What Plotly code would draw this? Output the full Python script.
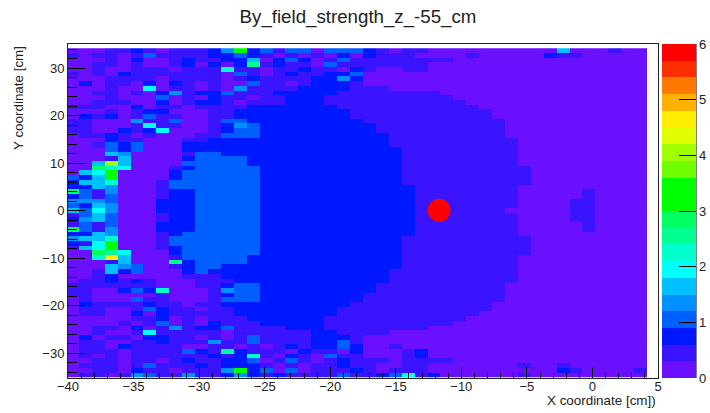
import plotly.graph_objects as go

TITLE = "By_field_strength_z_-55_cm"
X_LABEL = "X coordinate [cm])"
Y_LABEL = "Y coordinate [cm]"

LEVEL_COLORS = ["#6A10FF", "#3A14FF", "#0018FF", "#0060FF", "#0090FF", "#00C0FF", "#00FFFF",
                "#00FFCC", "#00FF90", "#00FF60", "#00FF00", "#00FF00", "#70FF00", "#A0FF00",
                "#E0FF00", "#FFEE00", "#FFB000", "#FF7800", "#FF3000", "#FF0000"]
LEVEL_STEP = 0.3
Z_MAX = 6

# One character per cell: the colour band (base 20), top row first.
# Columns x = -40 ... -24
LEFT_BANDS = [
    "000112101112" "4a231", "10110131111223210", "00010200121122502", "00110100120202812",
    "00100111011171101", "10102111111103101", "00011110111101211", "02011020210100311",
    "00010060110104111", "00110102412231112", "00010003010211011", "00111002012210111",
    "11100201101111222", "00010122000112222", "02120131100112222", "11000411300133222",
    "11000161100124322", "11002126000123322", "01121010001133322", "00021100011222222",
    "00132300022222222", "00032300022222222", "00054000013322222", "00015000023333222",
    "005d5000033333222", "00976000123333322", "056a0000233333322", "325a0000233333322",
    "25570001333333322", "22540001333333322", "93140001223333322", "23130001223333322",
    "44430002223333322", "32540002223333322", "53640002223333322", "13530001223333322",
    "24530001223333322", "13130002223333322", "93140002223333322", "22540001233333322",
    "45570001333333322", "216a0001333333322", "156a0001233333322", "00986000233333322",
    "007f5000133333222", "00015000823333222", "00054300123322222", "00152300023222222",
    "00120000011122222", "01121210001112222", "11111110001123322", "11002327000143322",
    "11000001000123322", "01000311000133322", "02111121101122222", "01100132110112222",
    "01100202111112222", "00000112010111222", "00001013010211122", "00110201412231111",
    "00100161111101111", "02011022110101311", "01100112111411311", "01102111100110101",
    "01110111132182111", "01010111111212710", "00110110121122301", "01110131112122210",
    "0011021101114a230", "01101431141124212",
]

# Columns x = -23 ... 4
RIGHT_BANDS = [
    "3303332101100000000005000100", "1010202111000010000021100000", "3201311111111000000000000000",
    "1103111111100000000000000000", "1211021001100000000000000000", "2112230000000000000000000000",
    "1122420000000000000000000000", "0122210000000000000000000000", "1222211100000000000000000000",
    "2222111111110000000000000000", "2221111111111000000000000000", "2221111111111100000000000000",
    "2222111111111110000000000000", "2222211111111111000000000000", "2222211111111111000000000000",
    "2222221111111111100000000000", "2222222111111111100000000000", "2222222111111111100000000000",
    "2222222211111111100000000000", "2222222211111111110000000000", "2222222211111111110000000000",
    "2222222221111111110000000000", "2222222221111111110000000000", "2222222221111111110000000000",
    "2222222221111111110000000000", "2222222221111111111000000000", "2222222221111111111000000000",
    "2222222221111111111000000000", "2222222221111111111000000000", "2222222222111111110000000000",
    "2222222222111111110000010000", "2222222222111111110000010000", "2222222222111111110000110000",
    "2222222222111111110000110000", "2222222222111111100000110000", "2222222222111111110000110000",
    "2222222222111111110000110000", "2222222222111111110000010000", "2222222222111111110000010000",
    "2222222222111111110000000000", "2222222221111111111000000000", "2222222221111111111000000000",
    "2222222221111111111000000000", "2222222221111111111000000000", "2222222221111111110000000000",
    "2222222221111111110000000000", "2222222221111111110000000000", "2222222211111111110000000000",
    "2222222211111111110000000000", "2222222211111111110000000000", "2222222111111111100000000000",
    "2222222111111111100000000000", "2222221111111111100000000000", "2222221111111111100000000000",
    "2222211111111111000000000000", "2222111111111111000000000000", "2222111111111110000000000000",
    "2221111111111100000000000000", "2221111111111000000000000000", "2221111111100000000000000000",
    "1122111100000000000000000000", "1122210000000000000000000000", "1122310000000000000000000000",
    "2122320010000000000000000000", "0211020001200000000000000000", "2103110001200000000000000000",
    "3101211101111000000000000000", "1011211001100000001001000000", "3011121011100000000002100001",
    "1111311236120000001000000000",
]

GRID_X_START = -39.66
GRID_X_STEP = 0.984
GRID_Y_START = -34.6
GRID_Y_STEP = 0.99

POINT_X = [-11.7]
POINT_Y = [0.1]

X_TICKS = [-40, -35, -30, -25, -20, -15, -10, -5, 0, 5]
Y_TICKS = [-30, -20, -10, 0, 10, 20, 30]
BAR_TICKS = [0, 1, 2, 3, 4, 5, 6]

rows = [l + r for l, r in zip(LEFT_BANDS, RIGHT_BANDS)]
assert len(rows) == 70 and all(len(r) == 45 for r in rows), [len(r) for r in rows]
z = [[(int(ch, 20) + 0.5) * LEVEL_STEP for ch in row] for row in reversed(rows)]

colorscale = []
n = len(LEVEL_COLORS)
for i, c in enumerate(LEVEL_COLORS):
    colorscale.append([i / n, c])
    colorscale.append([(i + 1) / n, c])

FONT = "Liberation Sans, Arial, sans-serif"
INK = "#222222"
L, R, T, B = 68, 52, 44, 35
W, H = 710, 413
PW = W - L - R
PH = H - T - B

fig = go.Figure()
fig.add_trace(go.Heatmap(
    z=z, x0=GRID_X_START, dx=GRID_X_STEP, y0=GRID_Y_START, dy=GRID_Y_STEP,
    colorscale=colorscale, zmin=0, zmax=Z_MAX, xgap=0, ygap=0,
    colorbar=dict(
        x=4 / PW + 1, xanchor="left", xpad=0, y=0.5, yanchor="middle", ypad=0,
        len=1, lenmode="fraction", thickness=34, thicknessmode="pixels",
        outlinewidth=0, tickmode="array", tickvals=BAR_TICKS, ticks="inside", ticklen=17,
        tickwidth=1, tickcolor="#000000", tickfont=dict(family=FONT, size=13, color=INK),
    ),
))
fig.add_trace(go.Scatter(x=POINT_X, y=POINT_Y, mode="markers",
                         marker=dict(color="#FF0000", size=23, line=dict(width=0)),
                         showlegend=False))

fig.update_layout(
    width=W, height=H, margin=dict(l=L, r=R, t=T, b=B, autoexpand=False),
    paper_bgcolor="white", plot_bgcolor="white", showlegend=False,
    title=dict(text=TITLE, x=358 / W, xanchor="center", xref="container",
               y=1 - 16 / H, yanchor="middle", yref="container",
               font=dict(family=FONT, size=18.7, color=INK)),
    font=dict(family=FONT, color=INK),
    xaxis=dict(range=[-40, 5], tickmode="array", tickvals=X_TICKS, ticks="inside", ticklen=11,
               tickwidth=1, tickcolor="#000000", showgrid=False, zeroline=False, showline=True,
               mirror=True, linecolor="#222222", linewidth=1, ticklabelstandoff=-4,
               tickfont=dict(family=FONT, size=13, color=INK),
               minor=dict(tickmode="linear", tick0=0, dtick=1, ticks="inside", ticklen=5,
                          tickwidth=1, tickcolor="#000000", showgrid=False)),
    yaxis=dict(range=[-35.2, 35.1], tickmode="array", tickvals=Y_TICKS, ticks="inside", ticklen=17,
               tickwidth=1, tickcolor="#000000", showgrid=False, zeroline=False, showline=True,
               mirror=True, linecolor="#222222", linewidth=1,
               tickfont=dict(family=FONT, size=13, color=INK),
               minor=dict(tickmode="linear", tick0=0, dtick=2, ticks="inside", ticklen=9,
                          tickwidth=1, tickcolor="#000000", showgrid=False)),
    annotations=[
        dict(text=X_LABEL, xref="paper", yref="paper", x=1, y=-22 / PH, xanchor="right",
             yanchor="middle", showarrow=False, font=dict(family=FONT, size=13.4, color=INK)),
        dict(text=Y_LABEL, xref="paper", yref="paper", x=-50 / PW, y=1, xanchor="center",
             yanchor="top", textangle=-90, showarrow=False,
             font=dict(family=FONT, size=13.4, color=INK)),
    ],
    shapes=[dict(type="line", xref="paper", yref="paper", x0=1 + 38 / PW, x1=1 + 38 / PW,
                 y0=0, y1=1, line=dict(color="#000000", width=1))],
)

fig.write_html("out.html", post_script="document.body.style.margin='0';",
               config={"displayModeBar": False})
